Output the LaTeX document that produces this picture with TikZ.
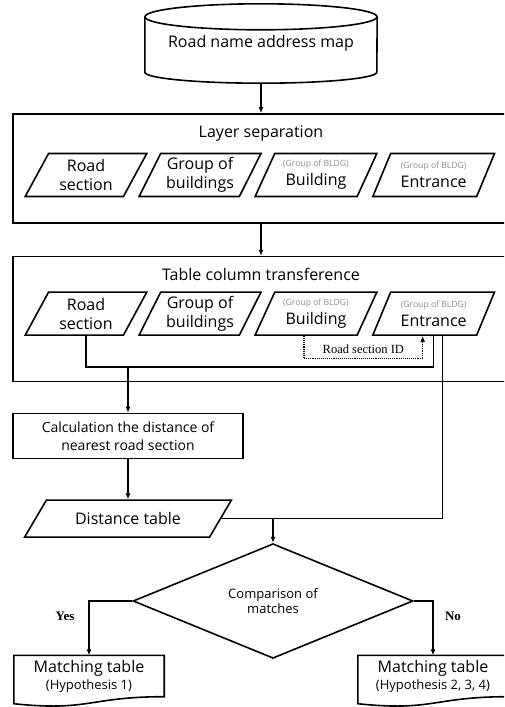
\documentclass[tikz,border=0pt]{standalone}
\usepackage{fontspec}
\setmainfont{Open Sans}
\newfontfamily\timesfont{Liberation Serif}
\usetikzlibrary{shapes.geometric,arrows.meta,positioning,calc}

\newcommand{\grpnote}{{\color{black!45}\fontsize{8.6}{9}\selectfont (Group of BLDG)}}

\begin{document}
\begin{tikzpicture}[
    x=1pt, y=-1pt,
    font=\fontsize{16}{19}\selectfont,
    db/.style={rectangle, minimum width=232pt, minimum height=80pt, inner sep=0pt},
    frame/.style={rectangle, draw, line width=1.6pt, minimum width=496pt},
    title/.style={font=\fontsize{16}{19}\selectfont},
    data/.style={trapezium, trapezium left angle=62, trapezium right angle=118, trapezium stretches=true, draw, line width=1.6pt, minimum width=122pt, minimum height=43pt, inner sep=0pt, align=center},
    proc/.style={rectangle, draw, line width=1.6pt, minimum width=230pt, minimum height=45pt, inner sep=0pt, align=center, font=\fontsize{14}{18}\selectfont},
    table/.style={data, trapezium left angle=41, trapezium right angle=139, minimum width=207pt, minimum height=37pt},
    decision/.style={diamond, draw, line width=1.6pt, minimum width=280pt, minimum height=72pt, inner sep=0pt, align=center, font=\fontsize{13}{15}\selectfont},
    doc/.style={rectangle, minimum width=150pt, minimum height=41pt, inner sep=0pt, align=center, font=\fontsize{16}{17}\selectfont},
    answer/.style={font=\timesfont\bfseries\fontsize{13}{15}\selectfont},
    line/.style={line width=1.2pt},
    arrow/.style={line, -{Latex[length=6pt,width=5pt]}},
    idarrow/.style={line width=1.1pt, densely dotted, -{Latex[length=6pt,width=5pt]}}
]
\useasboundingbox (0,0) rectangle (504,707);
\clip (0,0) rectangle (504,707);

% database
\node[db] (map) at (261,43) {Road name address map};
\draw[line width=1.6pt] ([yshift=-14pt]map.north) ellipse [x radius=116pt, y radius=13pt];
\draw[line width=1.6pt] ([yshift=-14pt]map.north west) -- ([yshift=11pt]map.south west)
    arc [start angle=180, end angle=360, x radius=116pt, y radius=11pt] -- ([yshift=-14pt]map.north east);

% layer separation
\node[frame, below=30pt of map, minimum height=109pt] (sep) {};
\node[title] (septitle) at ([yshift=-20pt]sep.north) {Layer separation};
\node[data] (rs1) at (86,175) {Road\\section};
\node[data, right=13pt of rs1] (gb1) {Group of\\buildings};
\node[data, right=13pt of gb1] (bld1) {\grpnote\\Building};
\node[data, right=13pt of bld1] (ent1) {\grpnote\\Entrance};

% table column transference
\node[frame, below=32pt of sep, minimum height=125pt] (tct) {};
\node[title] (tcttitle) at ([yshift=-19pt]tct.north) {Table column transference};
\node[data, below=94pt of rs1] (rs2) {Road\\section};
\node[data, right=13pt of rs2] (gb2) {Group of\\buildings};
\node[data, right=13pt of gb2] (bld2) {\grpnote\\Building};
\node[data, right=13pt of bld2] (ent2) {\grpnote\\Entrance};

\node[proc] (calc) at (128,436) {Calculation the distance of\\nearest road section};
\node[table, below=40pt of calc] (dist) {Distance table};
\node[decision] (dia) at (273,601) {Comparison of\\matches};
\node[doc] (mt1) at (89,676) {Matching table\\{\fontsize{13}{15}\selectfont(Hypothesis 1)}};
\node[doc] (mt2) at (433,676) {Matching table\\{\fontsize{13}{15}\selectfont(Hypothesis 2, 3, 4)}};
\foreach \n in {mt1,mt2}
    \draw[line width=1.6pt] (\n.north west) -- (\n.north east) -- (\n.south east)
        .. controls (\n.south) and ([yshift=-15pt]\n.south) .. ([yshift=-7pt]\n.south west) -- cycle;

\node[answer] (yes) at (65,616) {Yes};
\node[answer] (no) at (453,616) {No};

% connectors
\draw[arrow] (map.south) -- (sep.north);
\draw[arrow] (sep.south) -- (tct.north);
\coordinate (bus) at ([yshift=-31pt]rs2.south);
\draw[line] (rs2.south) -- (bus) -| (ent2.south);
\draw[arrow] (bus -| calc.north) -- (calc.north);
\draw[idarrow] ([xshift=-12pt]bld2.south) -- ++(0,-23pt) -| ([xshift=-11pt]ent2.south);
\node[font=\timesfont\fontsize{12.5}{14}\selectfont] (rsid) at ($([xshift=-12pt]bld2.south)!0.5!([xshift=-11pt]ent2.south)+(0,13)$) {Road section ID};
\draw[line] ([xshift=9pt]ent2.south) |- (dist.east);
\draw[arrow] (calc.south) -- (dist.north);
\draw[arrow] (dist.east -| dia.north) -- (dia.north);
\draw[arrow] (dia.west) -| (mt1.north);
\draw[arrow] (dia.east) -| (mt2.north);
\end{tikzpicture}
\end{document}
